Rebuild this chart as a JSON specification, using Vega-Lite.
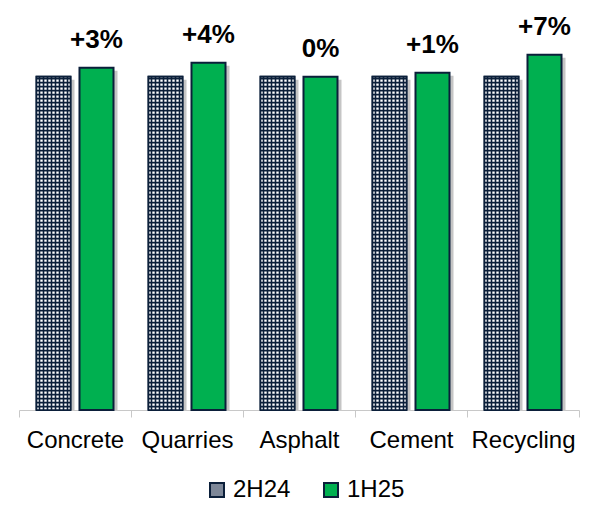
{
  "$schema": "https://vega.github.io/schema/vega-lite/v6.json",
  "width": 560,
  "height": 400,
  "padding": {"left": 18, "top": 10, "right": 14, "bottom": 0},
  "config": {"view": {"stroke": null}, "font": "Liberation Sans"},
  "data": {
    "values": [
      {"category": "Concrete", "series": "2H24", "value": 100, "label": ""},
      {"category": "Concrete", "series": "1H25", "value": 102.7, "label": "+3%"},
      {"category": "Quarries", "series": "2H24", "value": 100, "label": ""},
      {"category": "Quarries", "series": "1H25", "value": 104.2, "label": "+4%"},
      {"category": "Asphalt", "series": "2H24", "value": 100, "label": ""},
      {"category": "Asphalt", "series": "1H25", "value": 100, "label": "0%"},
      {"category": "Cement", "series": "2H24", "value": 100, "label": ""},
      {"category": "Cement", "series": "1H25", "value": 101.2, "label": "+1%"},
      {"category": "Recycling", "series": "2H24", "value": 100, "label": ""},
      {"category": "Recycling", "series": "1H25", "value": 106.6, "label": "+7%"}
    ]
  },
  "encoding": {
    "x": {
      "field": "category",
      "type": "nominal",
      "sort": ["Concrete", "Quarries", "Asphalt", "Cement", "Recycling"],
      "scale": {"paddingInner": 0, "paddingOuter": 0},
      "axis": {
        "title": null,
        "labelAngle": 0,
        "labelFontSize": 24,
        "labelColor": "#000000",
        "labelPadding": 11,
        "domainColor": "#c8c8c8",
        "tickColor": "#c8c8c8",
        "tickSize": 7,
        "tickBand": "extent"
      }
    },
    "xOffset": {
      "field": "series",
      "sort": ["2H24", "1H25"],
      "scale": {"paddingInner": 0.209, "paddingOuter": 0.407}
    },
    "y": {"field": "value", "type": "quantitative", "scale": {"domain": [0, 120]}, "axis": null}
  },
  "layer": [
    {
      "mark": {
        "type": "point",
        "shape": "M-0.14,0.03H0.21V3.6H-0.14Z",
        "size": 40000,
        "filled": true,
        "fill": "#8c8c8c",
        "strokeWidth": 0,
        "opacity": 0.5,
        "clip": true
      }
    },
    {
      "mark": {"type": "bar", "stroke": "#0b1f3a", "strokeWidth": 2},
      "encoding": {
        "color": {
          "field": "series",
          "type": "nominal",
          "sort": ["2H24", "1H25"],
          "scale": {"domain": ["2H24", "1H25"], "range": ["#7d8798", "#00b050"]},
          "legend": {
            "title": null,
            "orient": "none",
            "legendX": 186,
            "legendY": 468,
            "direction": "horizontal",
            "labelFontSize": 24,
            "labelColor": "#000000",
            "symbolType": "square",
            "symbolSize": 196,
            "symbolStrokeColor": "#0b1f3a",
            "symbolStrokeWidth": 2,
            "symbolOpacity": 1,
            "labelOffset": 4,
            "columnPadding": 28
          }
        }
      }
    },
    {
      "transform": [{"filter": "datum.series === '2H24'"}],
      "mark": {
        "type": "point",
        "shape": "M-0.17,0H0.17V3.333H-0.17ZM-0.14,0V3.333M-0.10,0V3.333M-0.06,0V3.333M-0.02,0V3.333M0.02,0V3.333M0.06,0V3.333M0.10,0V3.333M0.14,0V3.333M-0.17,0.02h0.34m-0.34,0.04h0.34m-0.34,0.04h0.34m-0.34,0.04h0.34m-0.34,0.04h0.34m-0.34,0.04h0.34m-0.34,0.04h0.34m-0.34,0.04h0.34m-0.34,0.04h0.34m-0.34,0.04h0.34m-0.34,0.04h0.34m-0.34,0.04h0.34m-0.34,0.04h0.34m-0.34,0.04h0.34m-0.34,0.04h0.34m-0.34,0.04h0.34m-0.34,0.04h0.34m-0.34,0.04h0.34m-0.34,0.04h0.34m-0.34,0.04h0.34m-0.34,0.04h0.34m-0.34,0.04h0.34m-0.34,0.04h0.34m-0.34,0.04h0.34m-0.34,0.04h0.34m-0.34,0.04h0.34m-0.34,0.04h0.34m-0.34,0.04h0.34m-0.34,0.04h0.34m-0.34,0.04h0.34m-0.34,0.04h0.34m-0.34,0.04h0.34m-0.34,0.04h0.34m-0.34,0.04h0.34m-0.34,0.04h0.34m-0.34,0.04h0.34m-0.34,0.04h0.34m-0.34,0.04h0.34m-0.34,0.04h0.34m-0.34,0.04h0.34m-0.34,0.04h0.34m-0.34,0.04h0.34m-0.34,0.04h0.34m-0.34,0.04h0.34m-0.34,0.04h0.34m-0.34,0.04h0.34m-0.34,0.04h0.34m-0.34,0.04h0.34m-0.34,0.04h0.34m-0.34,0.04h0.34m-0.34,0.04h0.34m-0.34,0.04h0.34m-0.34,0.04h0.34m-0.34,0.04h0.34m-0.34,0.04h0.34m-0.34,0.04h0.34m-0.34,0.04h0.34m-0.34,0.04h0.34m-0.34,0.04h0.34m-0.34,0.04h0.34m-0.34,0.04h0.34m-0.34,0.04h0.34m-0.34,0.04h0.34m-0.34,0.04h0.34m-0.34,0.04h0.34m-0.34,0.04h0.34m-0.34,0.04h0.34m-0.34,0.04h0.34m-0.34,0.04h0.34m-0.34,0.04h0.34m-0.34,0.04h0.34m-0.34,0.04h0.34m-0.34,0.04h0.34m-0.34,0.04h0.34m-0.34,0.04h0.34m-0.34,0.04h0.34m-0.34,0.04h0.34m-0.34,0.04h0.34m-0.34,0.04h0.34m-0.34,0.04h0.34m-0.34,0.04h0.34m-0.34,0.04h0.34m-0.34,0.04h0.34m-0.34,0.04h0.34m-0.34,0.04h0.34m-0.34,0.04h0.34m-0.34,0.04h0.34m-0.34,0.04h0.34m-0.34,0.04h0.34",
        "size": 40000,
        "filled": true,
        "fill": "#ffffff",
        "stroke": "#0b1f3a",
        "strokeWidth": 1.6,
        "opacity": 1,
        "clip": true
      }
    },
    {
      "transform": [{"filter": "datum.series === '1H25'"}],
      "mark": {
        "type": "text",
        "fontSize": 26,
        "fontWeight": "bold",
        "color": "#000000",
        "align": "center",
        "baseline": "middle",
        "dy": -28
      },
      "encoding": {"text": {"field": "label"}}
    }
  ]
}
